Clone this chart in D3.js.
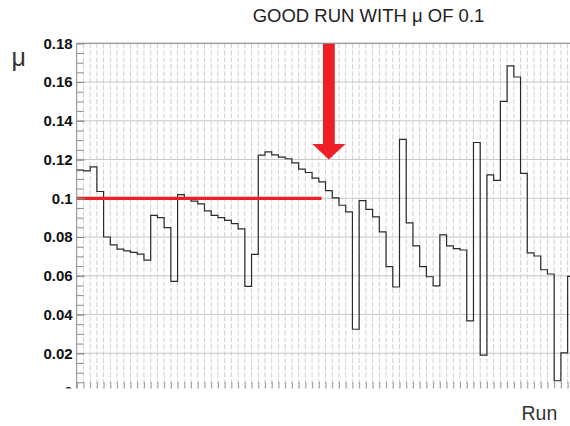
<!DOCTYPE html>
<html>
<head>
<meta charset="utf-8">
<script src="https://cdn.jsdelivr.net/npm/d3@7"></script>
<style>
  body { margin: 0; background: #fff; }
  svg { display: block; }
</style>
</head>
<body>
<script>
// Friction coefficient per run (one histogram bin per run)
const runs = d3.range(74);
const mu = [
  0.1145, 0.1141, 0.1162, 0.1035, 0.0800, 0.0759, 0.0738, 0.0729, 0.0721, 0.0712,
  0.0681, 0.0912, 0.0900, 0.0848, 0.0571, 0.1019, 0.0998, 0.0985, 0.0971, 0.0935,
  0.0912, 0.0900, 0.0886, 0.0869, 0.0842, 0.0545, 0.0710, 0.1223, 0.1240, 0.1224,
  0.1212, 0.1204, 0.1183, 0.1150, 0.1133, 0.1104, 0.1085, 0.1040, 0.1002, 0.0964,
  0.0930, 0.0324, 0.0988, 0.0943, 0.0904, 0.0827, 0.0647, 0.0542, 0.1304, 0.0873,
  0.0754, 0.0647, 0.0595, 0.0548, 0.0811, 0.0754, 0.0740, 0.0733, 0.0367, 0.1288,
  0.0190, 0.1121, 0.1092, 0.1500, 0.1683, 0.1626, 0.1129, 0.0718, 0.0702, 0.0631,
  0.0609, 0.0058, 0.0202, 0.0597
];
const yTicks = [0, 0.02, 0.04, 0.06, 0.08, 0.1, 0.12, 0.14, 0.16, 0.18];
const yTickLabels = ["0", "0.02", "0.04", "0.06", "0.08", "0.1", "0.12", "0.14", "0.16", "0.18"];
const yMinorTicks = d3.range(0, 0.1801, 0.005);
const goodMu = 0.1;      // reference level
const goodRun = 37;      // run pointed at by the arrow
const lineEndRun = 36.4; // extent of the reference level line
const titleText = "GOOD RUN WITH μ OF 0.1";
const yLabel = "μ";
const xLabel = "Run";

const W = 570, H = 426;
const padL = 76.7, padT = 43.3, baseY = 392, binW = 6.725;

const svg = d3.select("body").append("svg")
  .attr("width", W).attr("height", H)
  .style("font-family", "'Liberation Sans', Arial, sans-serif");

const x = d3.scaleLinear().domain([0, 75]).range([padL, padL + 75 * binW]);
const y = d3.scaleLinear().domain([0, 0.18]).range([baseY, padT]);

// grid
const grid = svg.append("g");
grid.selectAll("line.v").data(d3.range(1, 76)).join("line")
  .attr("class", "v")
  .attr("x1", d => x(d)).attr("x2", d => x(d))
  .attr("y1", padT).attr("y2", baseY)
  .attr("stroke", "#cfcfcf").attr("stroke-width", 1)
  .attr("stroke-dasharray", "5,2");
grid.selectAll("line.h").data(yTicks.slice(1)).join("line")
  .attr("class", "h")
  .attr("x1", padL).attr("x2", W)
  .attr("y1", d => y(d)).attr("y2", d => y(d))
  .attr("stroke", "#c8c8c8").attr("stroke-width", 1);

// histogram outline
const pts = runs.map(i => [i, mu[i]]);
pts.push([runs.length, mu[mu.length - 1]]);
const step = d3.line().x(d => x(d[0])).y(d => y(d[1])).curve(d3.curveStepAfter);
svg.append("path").attr("d", step(pts))
  .attr("fill", "none").attr("stroke", "#2a2a2a").attr("stroke-width", 1.2);

// reference level
svg.append("line")
  .attr("x1", x(0)).attr("x2", x(lineEndRun))
  .attr("y1", y(goodMu)).attr("y2", y(goodMu))
  .attr("stroke", "#ee1f25").attr("stroke-width", 3.3);

// arrow pointing down at the good run
const ax = x(goodRun + 0.5);
const tip = y(0.12);
const headH = 15.5, headHalf = 16.5, shaftHalf = 5.9;
const arrow = d3.path();
arrow.moveTo(ax - shaftHalf, padT);
arrow.lineTo(ax + shaftHalf, padT);
arrow.lineTo(ax + shaftHalf, tip - headH);
arrow.lineTo(ax + headHalf, tip - headH);
arrow.lineTo(ax, tip);
arrow.lineTo(ax - headHalf, tip - headH);
arrow.lineTo(ax - shaftHalf, tip - headH);
arrow.closePath();
svg.append("path").attr("d", arrow.toString()).attr("fill", "#ee1f25");

// x axis ticks
const xAxis = d3.axisBottom(x).tickValues(d3.range(0, 76)).tickSize(-10).tickFormat("");
const gx = svg.append("g").attr("transform", `translate(0,${baseY})`).call(xAxis);
gx.select(".domain").remove();
gx.selectAll(".tick line").attr("stroke", "#9a9a9a");

// y axis: minor then major ticks (inward)
const gyMinor = svg.append("g").attr("transform", `translate(${padL},0)`)
  .call(d3.axisLeft(y).tickValues(yMinorTicks).tickSizeInner(-7).tickSizeOuter(0).tickFormat(""));
gyMinor.select(".domain").remove();
gyMinor.selectAll(".tick line").attr("stroke", "#8a8a8a");

const gy = svg.append("g").attr("transform", `translate(${padL},0)`)
  .call(d3.axisLeft(y).tickValues(yTicks).tickSizeInner(-8).tickSizeOuter(0).tickPadding(4)
    .tickFormat((d, i) => yTickLabels[i]));
gy.select(".domain").remove();
gy.selectAll(".tick line").attr("stroke", "#8a8a8a");
gy.selectAll(".tick text")
  .attr("fill", "#111").attr("font-size", 15).attr("font-weight", "bold")
  .style("font-family", "'Liberation Sans', Arial, sans-serif");

// frame (top and left)
svg.append("line").attr("x1", padL).attr("x2", W).attr("y1", padT).attr("y2", padT)
  .attr("stroke", "#8a8a8a").attr("stroke-width", 1);
svg.append("line").attr("x1", padL).attr("x2", padL).attr("y1", padT).attr("y2", baseY)
  .attr("stroke", "#8a8a8a").attr("stroke-width", 1);

// lower margin
svg.append("rect").attr("x", 0).attr("y", 388.4).attr("width", W).attr("height", H - 388.4)
  .attr("fill", "#fff");

// texts
svg.append("text").attr("x", 252.7).attr("y", 21.7)
  .attr("font-size", 18.5).attr("fill", "#222").text(titleText);
svg.append("text").attr("x", 11.5).attr("y", 66)
  .attr("font-size", 25).attr("fill", "#333").text(yLabel);
svg.append("text").attr("x", 557.3).attr("y", 420).attr("text-anchor", "end")
  .attr("font-size", 19.5).attr("fill", "#333").text(xLabel);
</script>
</body>
</html>
